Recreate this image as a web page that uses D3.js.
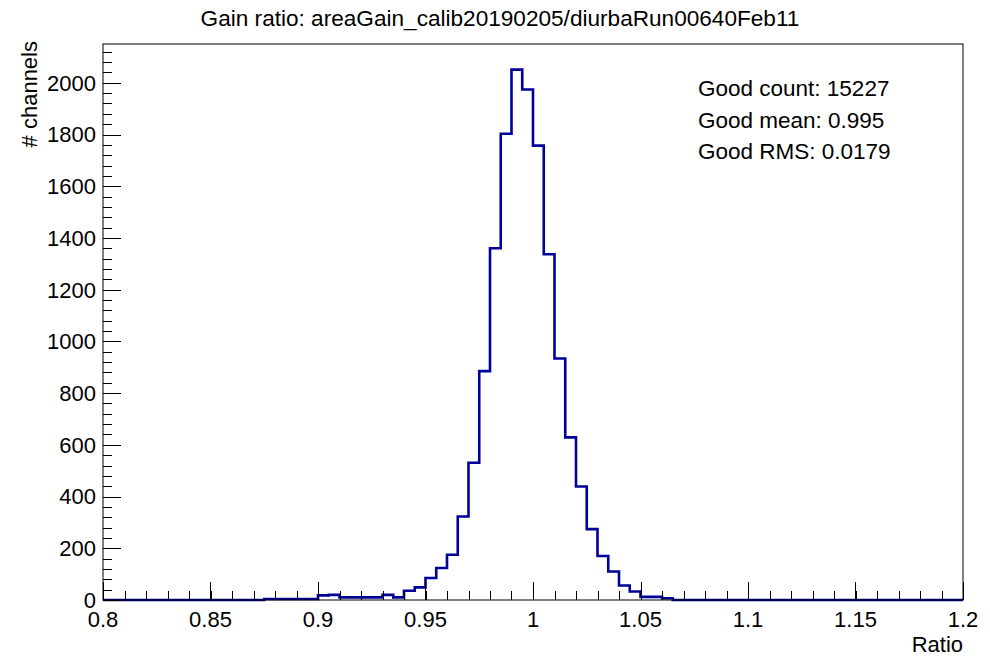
<!DOCTYPE html>
<html>
<head>
<meta charset="utf-8">
<script src="https://cdn.jsdelivr.net/npm/d3@7"></script>
<style>
  html, body { margin: 0; padding: 0; background: #fff; }
  svg { display: block; font-family: "Liberation Sans", Arial, sans-serif; }
</style>
</head>
<body>
<svg id="chart" width="990" height="656"></svg>
<script>
// ---- data ----
const binLow = 0.8;
const binWidth = 0.005;
const counts = [
  0, 0, 0, 0, 0, 0, 0, 0, 0, 0,            // 0.800 - 0.845
  0, 0, 0, 0, 0, 4, 4, 4, 4, 4,            // 0.850 - 0.895
  18, 20, 10, 10, 10, 10, 20, 10, 36, 49,  // 0.900 - 0.945
  85, 124, 175, 323, 531, 885, 1360, 1803, 2051, 1974, // 0.950 - 0.995
  1757, 1337, 934, 629, 439, 274, 170, 110, 56, 33,    // 1.000 - 1.045
  12, 12, 7, 0, 0, 0, 0, 0, 0, 0,          // 1.050 - 1.095
  0, 0, 0, 0, 0, 0, 0, 0, 0, 0,            // 1.100 - 1.145
  0, 0, 0, 0, 0, 0, 0, 0, 0, 0             // 1.150 - 1.195
];
const xTicks = [0.8, 0.85, 0.9, 0.95, 1.0, 1.05, 1.1, 1.15, 1.2];
const xTickLabels = ["0.8", "0.85", "0.9", "0.95", "1", "1.05", "1.1", "1.15", "1.2"];
const yTicks = [0, 200, 400, 600, 800, 1000, 1200, 1400, 1600, 1800, 2000];
const title = "Gain ratio: areaGain_calib20190205/diurbaRun00640Feb11";
const xTitle = "Ratio";
const yTitle = "# channels";
const statsLines = ["Good count: 15227", "Good mean: 0.995", "Good RMS: 0.0179"];
const yMax = 2150;

// ---- layout ----
const L = 103, R = 963, T = 44, B = 600;
const svg = d3.select("#chart");
const x = d3.scaleLinear().domain([0.8, 1.2]).range([L, R]);
const y = d3.scaleLinear().domain([0, yMax]).range([B, T]);
const lineColor = "#000099";

// histogram path (step)
const pts = [];
pts.push([binLow, 0]);
counts.forEach((c, i) => {
  const x0 = binLow + i * binWidth, x1 = x0 + binWidth;
  pts.push([x0, c]);
  pts.push([x1, c]);
});
pts.push([binLow + counts.length * binWidth, 0]);
const line = d3.line().x(d => x(d[0])).y(d => y(d[1]));
svg.append("path")
  .attr("d", line(pts))
  .attr("fill", "none")
  .attr("stroke", lineColor)
  .attr("stroke-width", 2.6)
  .attr("stroke-linejoin", "miter");

// frame
svg.append("rect")
  .attr("x", L).attr("y", T).attr("width", R - L).attr("height", B - T)
  .attr("fill", "none").attr("stroke", "#000").attr("stroke-width", 1);

// x axis ticks
const xMinor = d3.range(0, 41).map(i => 0.8 + i * 0.01);
const gx = svg.append("g");
gx.selectAll("line.minor").data(xMinor).enter().append("line")
  .attr("x1", d => Math.round(x(d)) + 0.5).attr("x2", d => Math.round(x(d)) + 0.5)
  .attr("y1", B).attr("y2", B - 9)
  .attr("stroke", "#000").attr("stroke-width", 1);
gx.selectAll("line.major").data(xTicks).enter().append("line")
  .attr("x1", d => Math.round(x(d)) + 0.5).attr("x2", d => Math.round(x(d)) + 0.5)
  .attr("y1", B).attr("y2", B - 18)
  .attr("stroke", "#000").attr("stroke-width", 1);
gx.selectAll("text").data(xTicks).enter().append("text")
  .attr("x", d => x(d)).attr("y", B + 27)
  .attr("text-anchor", "middle")
  .attr("font-size", 22)
  .text((d, i) => xTickLabels[i]);

// y axis ticks
const yMinor = d3.range(0, 54).map(i => i * 40).filter(v => v <= yMax);
const gy = svg.append("g");
gy.selectAll("line.minor").data(yMinor).enter().append("line")
  .attr("x1", L).attr("x2", L + 9)
  .attr("y1", d => Math.round(y(d)) + 0.5).attr("y2", d => Math.round(y(d)) + 0.5)
  .attr("stroke", "#000").attr("stroke-width", 1);
gy.selectAll("line.major").data(yTicks).enter().append("line")
  .attr("x1", L).attr("x2", L + 18)
  .attr("y1", d => Math.round(y(d)) + 0.5).attr("y2", d => Math.round(y(d)) + 0.5)
  .attr("stroke", "#000").attr("stroke-width", 1);
gy.selectAll("text").data(yTicks).enter().append("text")
  .attr("x", L - 7).attr("y", d => y(d))
  .attr("dy", "0.36em")
  .attr("text-anchor", "end")
  .attr("font-size", 22)
  .text(d => d);

// titles
svg.append("text")
  .attr("x", 500).attr("y", 26)
  .attr("text-anchor", "middle")
  .attr("font-size", 22.6)
  .text(title);
svg.append("text")
  .attr("x", R).attr("y", 652)
  .attr("text-anchor", "end")
  .attr("font-size", 22)
  .text(xTitle);
svg.append("text")
  .attr("transform", `translate(37, ${T - 3}) rotate(-90)`)
  .attr("text-anchor", "end")
  .attr("font-size", 22)
  .text(yTitle);

// stats
svg.selectAll("text.stat").data(statsLines).enter().append("text")
  .attr("class", "stat")
  .attr("x", 698).attr("y", (d, i) => 96 + i * 31.5)
  .attr("font-size", 22.5)
  .text(d => d);
</script>
</body>
</html>
